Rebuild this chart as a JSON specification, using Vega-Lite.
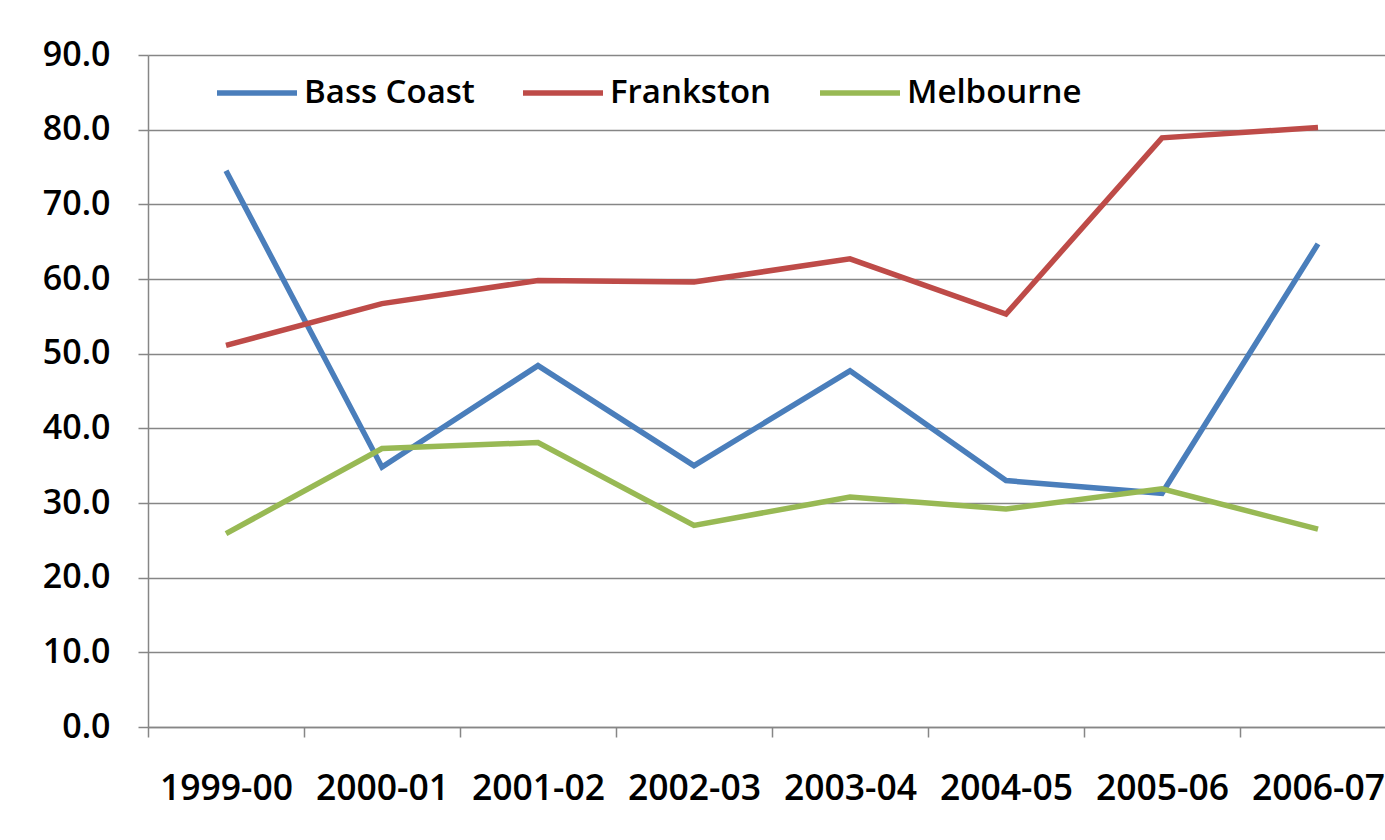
{
  "$schema": "https://vega.github.io/schema/vega-lite/v6.json",
  "autosize": {"type": "none"},
  "padding": {"left": 148, "top": 55, "right": 0, "bottom": 113},
  "width": 1237,
  "height": 672,
  "background": "white",
  "config": {
    "view": {"stroke": null},
    "font": "Open Sans",
    "axis": {"labelFont": "Open Sans", "labelFontWeight": 600, "labelColor": "#000000", "domainColor": "#868686", "tickColor": "#868686", "gridColor": "#868686", "domainWidth": 1.5, "tickWidth": 1.5, "gridWidth": 1.5}
  },
  "data": {
    "values": [
      {"year": "1999-00", "series": "Bass Coast", "value": 74.5},
      {"year": "2000-01", "series": "Bass Coast", "value": 34.8},
      {"year": "2001-02", "series": "Bass Coast", "value": 48.4},
      {"year": "2002-03", "series": "Bass Coast", "value": 35.0},
      {"year": "2003-04", "series": "Bass Coast", "value": 47.7},
      {"year": "2004-05", "series": "Bass Coast", "value": 33.0},
      {"year": "2005-06", "series": "Bass Coast", "value": 31.3},
      {"year": "2006-07", "series": "Bass Coast", "value": 64.7},
      {"year": "1999-00", "series": "Frankston", "value": 51.1},
      {"year": "2000-01", "series": "Frankston", "value": 56.7},
      {"year": "2001-02", "series": "Frankston", "value": 59.8},
      {"year": "2002-03", "series": "Frankston", "value": 59.6},
      {"year": "2003-04", "series": "Frankston", "value": 62.7},
      {"year": "2004-05", "series": "Frankston", "value": 55.3},
      {"year": "2005-06", "series": "Frankston", "value": 78.9},
      {"year": "2006-07", "series": "Frankston", "value": 80.3},
      {"year": "1999-00", "series": "Melbourne", "value": 25.9},
      {"year": "2000-01", "series": "Melbourne", "value": 37.3},
      {"year": "2001-02", "series": "Melbourne", "value": 38.1},
      {"year": "2002-03", "series": "Melbourne", "value": 27.0},
      {"year": "2003-04", "series": "Melbourne", "value": 30.8},
      {"year": "2004-05", "series": "Melbourne", "value": 29.2},
      {"year": "2005-06", "series": "Melbourne", "value": 31.9},
      {"year": "2006-07", "series": "Melbourne", "value": 26.5}
    ]
  },
  "mark": {"type": "line", "strokeWidth": 5.5, "clip": false},
  "encoding": {
    "x": {
      "field": "year",
      "type": "ordinal",
      "sort": null,
      "scale": {"type": "band", "paddingInner": 0, "paddingOuter": 0, "range": [0, 1248]},
      "axis": {
        "title": null,
        "labelAngle": 0,
        "labelFontSize": 35.5,
        "labelPadding": 34,
        "tickSize": 10,
        "tickBand": "extent",
        "grid": false
      }
    },
    "y": {
      "field": "value",
      "type": "quantitative",
      "scale": {"domain": [0, 90], "nice": false, "zero": true},
      "axis": {
        "title": null,
        "values": [0, 10, 20, 30, 40, 50, 60, 70, 80, 90],
        "format": ".1f",
        "labelFontSize": 34,
        "labelPadding": 28,
        "tickSize": 10,
        "grid": true
      }
    },
    "color": {
      "field": "series",
      "type": "nominal",
      "scale": {"domain": ["Bass Coast", "Frankston", "Melbourne"], "range": ["#4A7EBB", "#BE4B48", "#98B954"]},
      "legend": {
        "title": null,
        "orient": "none",
        "direction": "horizontal",
        "legendX": 66,
        "legendY": -5,
        "symbolType": "stroke",
        "symbolSize": 6400,
        "symbolStrokeWidth": 5.5,
        "labelFontSize": 33,
        "labelFont": "Open Sans",
        "labelFontWeight": 600,
        "labelColor": "#000000",
        "labelOffset": 4,
        "columnPadding": 37,
        "labelLimit": 400
      }
    }
  }
}
